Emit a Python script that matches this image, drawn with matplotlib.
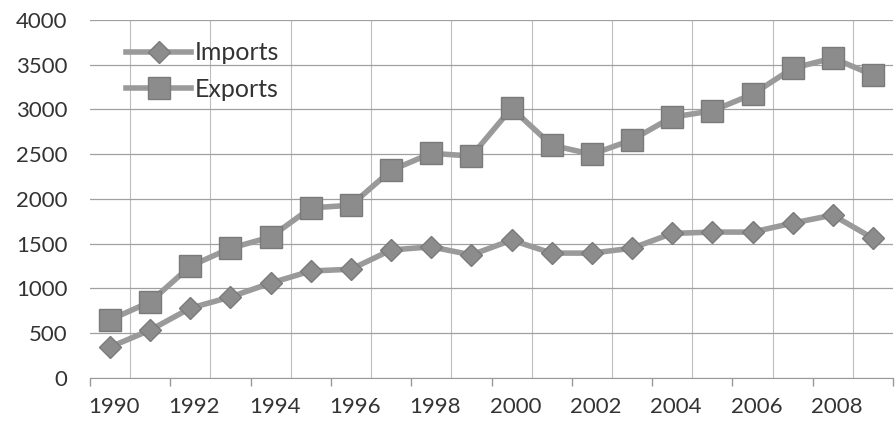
import numpy as np
import matplotlib.pyplot as plt

plt.rcParams['font.family'] = ['Lato', 'DejaVu Sans']

years = list(range(1990, 2010))
imports = [345, 535, 780, 905, 1060, 1195, 1215, 1430, 1465, 1375,
           1540, 1395, 1395, 1450, 1615, 1630, 1630, 1730, 1820, 1560]
exports = [650, 850, 1250, 1450, 1575, 1900, 1930, 2320, 2510, 2480,
           3015, 2600, 2500, 2660, 2915, 2985, 3170, 3460, 3575, 3385]
y_ticks = [0, 500, 1000, 1500, 2000, 2500, 3000, 3500, 4000]
x_labels = list(range(1990, 2010, 2))

fig = plt.figure(figsize=(8.96, 4.29), dpi=100)
ax = fig.add_axes([0.1004, 0.119, 0.8963, 0.8344])

line_col = '#9a9a9a'
mark_col = '#8c8c8c'
ax.plot(years, imports, color=line_col, lw=4, marker='D', ms=11,
        mfc=mark_col, mec='#7a7a7a', label='Imports', zorder=3)
ax.plot(years, exports, color=line_col, lw=4, marker='s', ms=16,
        mfc=mark_col, mec='#7a7a7a', label='Exports', zorder=3)

ax.set_xlim(1989.5, 2009.5)
ax.set_ylim(0, 4000)
ax.set_yticks(y_ticks)
# gridlines on category boundaries
ax.set_xticks(np.arange(1989.5, 2010, 1), minor=True)
ax.set_xticks(np.arange(1989.5, 2010, 2))
ax.set_xticklabels([])
ax.grid(True, which='minor', axis='x', color='#bdbdbd', lw=0.8)
ax.grid(True, which='major', axis='y', color='#a0a0a0', lw=0.9)
ax.tick_params(axis='x', which='minor', length=0)
ax.tick_params(axis='x', which='major', length=6, color='#999999', width=1)
ax.tick_params(axis='y', length=0, pad=16, labelsize=16, labelcolor='#333333')
for yr in x_labels:
    ax.text(yr + 0.1, -330, str(yr), ha='center', va='center', fontsize=16,
            color='#333333', clip_on=False)

for side in ['top', 'right', 'left']:
    ax.spines[side].set_visible(False)
ax.spines['bottom'].set_color('#999999')

leg = ax.legend(loc='upper left', bbox_to_anchor=(0.033, 0.968), frameon=False,
                fontsize=18, handlelength=2.6, handletextpad=0.15,
                labelspacing=0.55, borderaxespad=0)
for t in leg.get_texts():
    t.set_color('#333333')

fig.savefig('out.png', dpi=100, facecolor='white')
